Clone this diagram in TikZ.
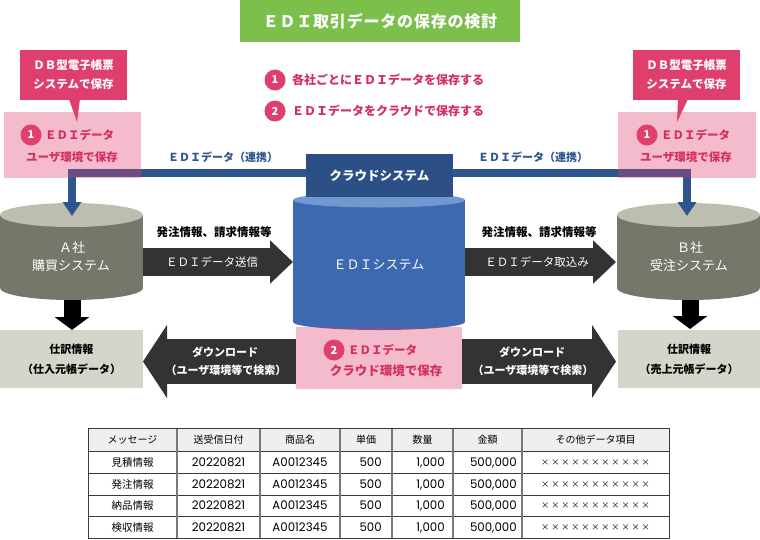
\documentclass[tikz,border=0pt]{standalone}
\usepackage{fontspec}
\setmainfont{Noto Sans CJK JP}
\newfontfamily\numfont{Poppins}
\usetikzlibrary{arrows.meta}
\definecolor{grn}{HTML}{7CBF4B}
\definecolor{crim}{HTML}{DE3F6C}
\definecolor{crimtxt}{HTML}{D42E62}
\definecolor{blueln}{HTML}{2F558E}
\definecolor{cloudbox}{HTML}{2C4F86}
\definecolor{cylblue}{HTML}{3D69B0}
\definecolor{cylbluetop}{HTML}{7398D0}
\definecolor{cylgrey}{HTML}{76776A}
\definecolor{cylgreytop}{HTML}{BEBEB0}
\definecolor{greybox}{HTML}{D5D5CC}
\definecolor{darkarr}{HTML}{333333}
\definecolor{tblline}{HTML}{3A3A3A}
\definecolor{tblvline}{HTML}{7A7A72}
\definecolor{tblhead}{HTML}{EFEFEF}
\begin{document}
\begin{tikzpicture}[x=1pt,y=-1pt,
  fs/.style={font=\fontsize{#1}{#1}\selectfont},
  fb/.style={font=\fontsize{#1}{#1}\selectfont\bfseries},
  numf/.style={font=\fontsize{11.8}{11.8}\selectfont\numfont},
  numc/.style={circle, fill=crim, text=white, minimum size=21pt, inner sep=0pt, fb=11},
  pinkbox/.style={fill=crim, fill opacity=0.35, draw=none, inner sep=0pt},
  txt/.style={inner sep=0pt, anchor=center},
  tb/.style={inner sep=0pt, anchor=base},
  bluearrow/.style={draw=blueln, line width=8.5pt, -{Triangle[width=18pt,length=14pt]}},
  blackarrow/.style={draw=black, line width=17pt, -{Triangle[width=34pt,length=13pt]}},
  bigarrow/.style={draw=darkarr, line width=28pt, -{Triangle[width=42pt,length=23pt]}},
  dlarrow/.style={draw=darkarr, line width=45pt, -{Triangle[width=72pt,length=24pt]}},
  tblh/.style={draw=tblline, line width=0.9pt},
  tblv/.style={draw=tblvline, line width=1.8pt},
]
\useasboundingbox (0,0) rectangle (760,539);
\fill[white] (0,0) rectangle (760,539);

% title
\node[fill=grn, minimum width=280pt, minimum height=42pt, inner sep=0pt, text=white, font=\fontsize{16}{16}\selectfont\bfseries\addfontfeature{LetterSpace=5}] (title) at (380,21) {ＥＤＩ取引データの保存の検討};

% legend
\node[numc] (l1) at (275,80) {1};
\node[txt, anchor=west, text=crimtxt, fb=12] (l1t) at (292,80) {各社ごとにＥＤＩデータを保存する};
\node[numc] (l2) at (275,111) {2};
\node[txt, anchor=west, text=crimtxt, fb=12] (l2t) at (292,111) {ＥＤＩデータをクラウドで保存する};

% crimson callouts
\node[fill=crim, minimum width=107pt, minimum height=50pt, inner sep=0pt, text=white, align=center, font=\fontsize{11.5}{19}\selectfont\bfseries] (cba) at (73.5,75) {ＤＢ型電子帳票\\システムで保存};
\fill[crim] (69,99) -- (80,99) -- (77,122) -- cycle;
\node[fill=crim, minimum width=107pt, minimum height=50pt, inner sep=0pt, text=white, align=center, font=\fontsize{11.5}{19}\selectfont\bfseries] (cbb) at (686.5,75) {ＤＢ型電子帳票\\システムで保存};
\fill[crim] (678,99) -- (688,99) -- (677,122) -- cycle;

% cylinders A and B
\fill[cylgrey] (0,215) rectangle (143,288);
\fill[cylgrey] (71.5,288) ellipse [x radius=71.5, y radius=12];
\fill[cylgreytop] (71.5,215) ellipse [x radius=71.5, y radius=12];
\node[txt, text=white, fs=13] (aname) at (72,248) {Ａ社};
\node[txt, text=white, fs=13] (asys) at (71,266) {購買システム};

\fill[cylgrey] (617,215) rectangle (760,288);
\fill[cylgrey] (688.5,288) ellipse [x radius=71.5, y radius=12];
\fill[cylgreytop] (688.5,215) ellipse [x radius=71.5, y radius=12];
\node[txt, text=white, fs=13] (bname) at (690,248) {Ｂ社};
\node[txt, text=white, fs=13] (bsys) at (689,266) {受注システム};

% EDI cylinder
\fill[cylblue] (293,200) rectangle (465,322);
\fill[cylblue] (379,322) ellipse [x radius=86, y radius=8];
\fill[cylbluetop] (379,200) ellipse [x radius=86, y radius=7.5];
\node[txt, text=white, fs=13] (edi) at (379,265) {ＥＤＩシステム};

% cloud box
\node[fill=cloudbox, minimum width=147pt, minimum height=43pt, inner sep=0pt, text=white, fb=12.5] (cloud) at (379.5,175.5) {クラウドシステム};

% blue connectors
\coordinate (atop) at (72,216);
\coordinate (btop) at (687,216);
\draw[bluearrow] ([yshift=2.5pt]cloud.west) -| (atop);
\draw[bluearrow] ([yshift=2.5pt]cloud.east) -| (btop);
\node[txt, text=blueln, fb=11] (lnkA) at (223,157) {ＥＤＩデータ（連携）};
\node[txt, text=blueln, fb=11] (lnkB) at (533,157) {ＥＤＩデータ（連携）};

% pink boxes 1
\node[pinkbox, minimum width=137pt, minimum height=66pt] (pa) at (72.5,145) {};
\node[numc] (c1a) at (31,135) {1};
\node[txt, anchor=west, text=crimtxt, fb=11.5] (pat1) at (45,135) {ＥＤＩデータ};
\node[txt, text=crimtxt, fb=11.5] (pat2) at (72,157) {ユーザ環境で保存};

\node[pinkbox, minimum width=138pt, minimum height=66pt] (pb) at (687,145) {};
\node[numc] (c1b) at (647,135) {1};
\node[txt, anchor=west, text=crimtxt, fb=11.5] (pbt1) at (661,135) {ＥＤＩデータ};
\node[txt, text=crimtxt, fb=11.5] (pbt2) at (686,157) {ユーザ環境で保存};

% dark arrows A -> EDI -> B
\coordinate (aR) at (143,262);
\coordinate (ediL) at (293,262);
\coordinate (ediR) at (465,262);
\coordinate (bL) at (616,262);
\draw[bigarrow] (aR) -- (ediL);
\draw[bigarrow] (ediR) -- (bL);
\node[txt, fb=11.5] (sendlbl) at (214,232) {発注情報、請求情報等};
\node[txt, text=white, fs=11.5] (send) at (212,262) {ＥＤＩデータ送信};
\node[txt, fb=11.5] (recvlbl) at (539,232) {発注情報、請求情報等};
\node[txt, text=white, fs=11.5] (recv) at (537,262) {ＥＤＩデータ取込み};

% pink box 2
\node[pinkbox, minimum width=166pt, minimum height=62pt] (p2) at (379,358) {};
\node[numc] (c2) at (334,350) {2};
\node[txt, anchor=west, text=crimtxt, fb=11.5] (p2t1) at (348,350) {ＥＤＩデータ};
\node[txt, text=crimtxt, fb=12.5] (p2t2) at (386,371) {クラウド環境で保存};

% download arrows
\coordinate (p2L) at (296,361.5);
\coordinate (gAR) at (143,361.5);
\coordinate (p2R) at (462,361.5);
\coordinate (gBL) at (616,361.5);
\draw[dlarrow] (p2L) -- (gAR);
\draw[dlarrow] (p2R) -- (gBL);
\node[txt, text=white, fb=11] (dlA1) at (225,352) {ダウンロード};
\node[txt, text=white, fb=11] (dlA2) at (226,370) {（ユーザ環境等で検索）};
\node[txt, text=white, fb=11] (dlB1) at (532,352) {ダウンロード};
\node[txt, text=white, fb=11] (dlB2) at (533,370) {（ユーザ環境等で検索）};

% black down arrows
\coordinate (aBot) at (72,300);
\coordinate (gAtop) at (72,330);
\coordinate (bBot) at (690,300);
\coordinate (gBtop) at (690,329);
\draw[blackarrow] (aBot) -- (gAtop);
\draw[blackarrow] (bBot) -- (gBtop);

% grey boxes
\node[fill=greybox, minimum width=143pt, minimum height=58pt, inner sep=0pt, align=center, font=\fontsize{11}{20}\selectfont\bfseries] (ga) at (71.5,359) {仕訳情報\\（仕入元帳データ）};
\node[fill=greybox, minimum width=142pt, minimum height=58pt, inner sep=0pt, align=center, font=\fontsize{11}{20}\selectfont\bfseries] (gb) at (689,359) {仕訳情報\\（売上元帳データ）};

% table
\fill[tblhead] (88,428) rectangle (669,451);
\foreach \y in {451,473,495,516} \draw[tblh] (88,\y) -- (669,\y);
\foreach \x in {177,260,340,392,453,522} \draw[tblv] (\x,428) -- (\x,538);
\draw[tblh] (88,428) rectangle (669,538);
\foreach \n/\x/\t in {1/132.5/メッセージ, 2/218.5/送受信日付, 3/300/商品名, 4/366/単価, 5/422.5/数量, 6/487.5/金額, 7/595.5/その他データ項目}
  \node[tb, fs=10] (h\n) at (\x,443.5) {\t};
\foreach \n/\y/\t in {1/466/見積情報, 2/488/発注情報, 3/509.5/納品情報, 4/531/検収情報} {
  \node[tb, fs=10.5] (m\n) at (132.5,\y) {\t};
  \node[tb, numf] (d\n) at (218.5,\y) {20220821};
  \node[tb, numf] (p\n) at (300,\y) {A0012345};
  \node[tb, numf, anchor=base east] (u\n) at (382,\y) {500};
  \node[tb, numf, anchor=base east] (q\n) at (445,\y) {1,000};
  \node[tb, numf, anchor=base east] (k\n) at (517,\y) {500,000};
  \node[tb, fs=8.2] (o\n) at (595.5,\y-1) {× × × × × × × × × × ×};
}
\end{tikzpicture}
\end{document}
